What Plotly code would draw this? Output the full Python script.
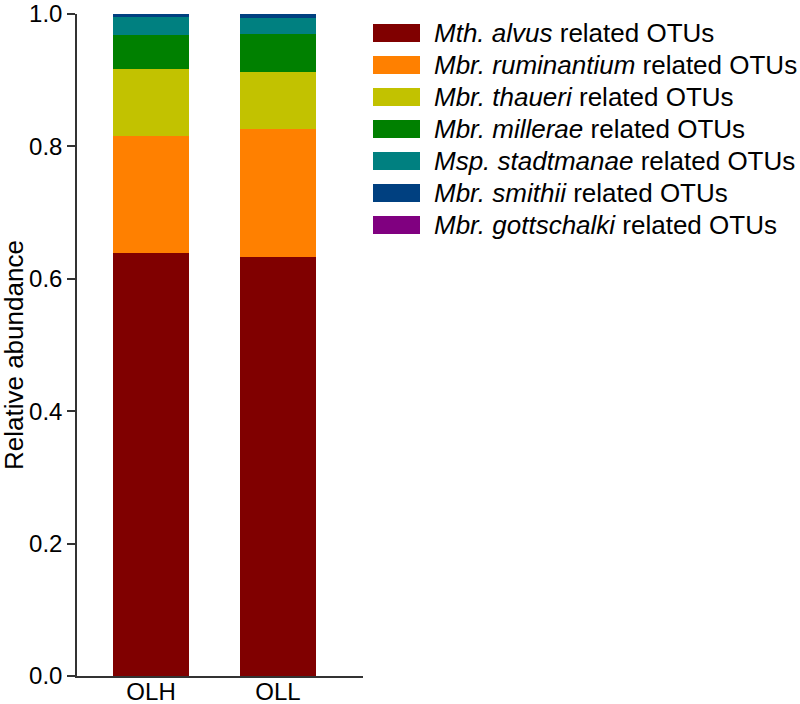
import plotly.graph_objects as go

samples = ["OLH", "OLL"]
species = ["Mth. alvus", "Mbr. ruminantium", "Mbr. thaueri", "Mbr. millerae",
           "Msp. stadtmanae", "Mbr. smithii", "Mbr. gottschalki"]
alvus = [0.639, 0.633]
ruminantium = [0.176, 0.193]
thaueri = [0.102, 0.087]
millerae = [0.051, 0.057]
stadtmanae = [0.027, 0.024]
smithii = [0.005, 0.006]
gottschalki = [0.0005, 0.0005]
values = [alvus, ruminantium, thaueri, millerae, stadtmanae, smithii, gottschalki]
colors = ["#800000", "#FF8000", "#C2C200", "#008000", "#008080", "#004080", "#800080"]
y_ticks = [0.0, 0.2, 0.4, 0.6, 0.8, 1.0]

FONT = "Liberation Sans, Arial, sans-serif"
W, H = 800, 704
L, R, T, B = 77, 2, 14, 28
pw = W - L - R
ph = H - T - B

fig = go.Figure()
for name, vals, col in zip(species, values, colors):
    fig.add_trace(go.Bar(x=samples, y=vals, name=name, marker_color=col,
                         marker_line_width=0, width=0.6, showlegend=False))

def px2x(px):
    return (px - L) / pw

def py2y(py):
    return (H - B - py) / ph

row_y = [33, 65, 97, 129, 161, 193, 225]
shapes = []
annotations = []
for name, col, ry in zip(species, colors, row_y):
    shapes.append(dict(type="rect", xref="paper", yref="paper",
                       x0=px2x(373), x1=px2x(420), y0=py2y(ry + 9), y1=py2y(ry - 9),
                       fillcolor=col, line_width=0))
    annotations.append(dict(xref="paper", yref="paper", x=px2x(432), y=py2y(ry),
                            xanchor="left", yanchor="middle", showarrow=False,
                            text=f"<i>{name}</i> related OTUs",
                            font=dict(family=FONT, size=26, color="black")))

annotations.append(dict(xref="paper", yref="paper", x=px2x(14), y=py2y(355),
                        xanchor="center", yanchor="middle", showarrow=False,
                        textangle=-90, text="Relative abundance",
                        font=dict(family=FONT, size=26, color="black")))

fig.update_layout(
    width=W, height=H,
    margin=dict(l=L, r=R, t=T, b=B),
    barmode="stack",
    plot_bgcolor="white", paper_bgcolor="white",
    font=dict(family=FONT, size=24, color="black"),
    shapes=shapes, annotations=annotations,
    xaxis=dict(domain=[0, (363 - L) / pw], range=[-0.583, 1.669],
               showline=True, linecolor="#333", linewidth=1.5,
               ticks="", showgrid=False, zeroline=False,
               tickfont=dict(size=24), automargin=False,
               ticklabeloverflow="allow", ticklabelstandoff=-7),
    yaxis=dict(range=[0, 1.0], tickvals=y_ticks, tickformat=".1f",
               showline=True, linecolor="#333", linewidth=1.5,
               ticks="outside", ticklen=8, tickwidth=1.5, tickcolor="#333",
               showgrid=False, zeroline=False, tickfont=dict(size=24),
               automargin=False, ticklabeloverflow="allow"),
)

fig.write_html("out.html", config={"displayModeBar": False},
               post_script="document.body.style.margin='0';")
